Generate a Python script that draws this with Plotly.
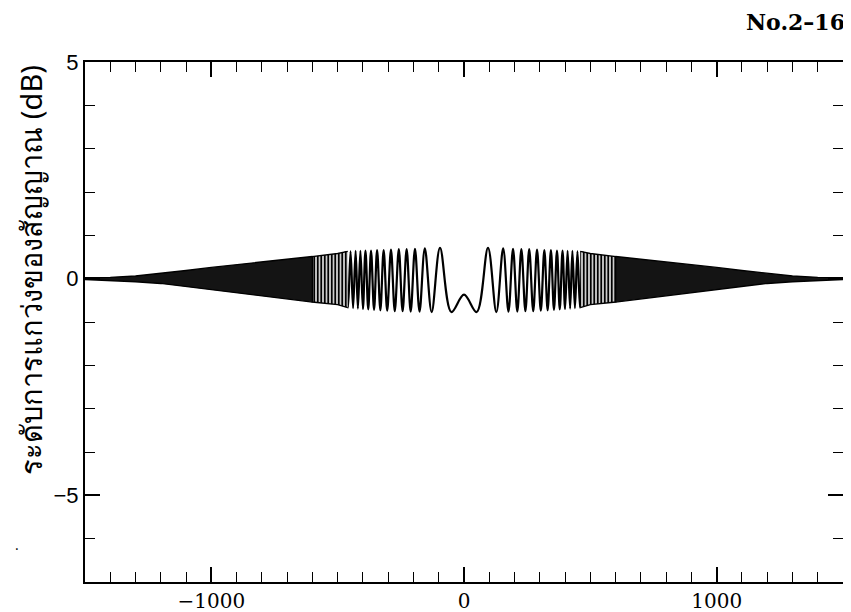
import plotly.graph_objects as go

# ---- data (positive side; the curve is mirror-symmetric) ----
# resolvable oscillation extrema near the centre
ext_x = [0, 50, 95, 128, 155, 176, 194, 211, 227, 243, 258, 274, 289, 304, 318,
         331, 344, 356, 368, 379, 390, 400, 410, 420, 429, 439, 449, 459, 469]
ext_y = [-0.37, -0.77, 0.71, -0.77, 0.70, -0.76, 0.69, -0.76, 0.68, -0.75, 0.68,
         -0.75, 0.67, -0.74, 0.66, -0.73, 0.66, -0.72, 0.65, -0.71, 0.65, -0.70,
         0.64, -0.69, 0.64, -0.68, 0.63, -0.67, 0.63]

# envelope of the dense (unresolvable) oscillation band
env_x = [460, 500, 600, 700, 800, 900, 1000, 1100, 1200, 1300, 1400, 1500]
env_up = [0.63, 0.58, 0.51, 0.45, 0.39, 0.33, 0.26, 0.19, 0.12, 0.06, 0.03, 0.02]
env_lo = [-0.67, -0.60, -0.54, -0.46, -0.39, -0.32, -0.25, -0.18, -0.11, -0.07, -0.04, -0.02]
split_x = 600  # striated part ends, solid dark part begins

x_ticks = [-1000, 0, 1000]
x_ticklabels = ["\u22121000", "0", "1000"]
y_ticks = [-5, 0, 5]
y_ticklabels = ["\u22125", "0", "5"]

title_text = "No.2\u201316"
y_title = "ระดับการแกว่งของสัญญาณ (dB)"

fig = go.Figure()

# centre oscillation
cx = [-v for v in ext_x[:0:-1]] + ext_x
cy = ext_y[:0:-1] + ext_y
fig.add_trace(go.Scatter(x=cx, y=cy, mode="lines",
                         line=dict(color="black", width=2.2, shape="spline", smoothing=1.0),
                         hoverinfo="skip", showlegend=False))

def band(sign, lo_lim, hi_lim, pattern):
    xs = [x for x in env_x if lo_lim <= x <= hi_lim]
    up = [u for x, u in zip(env_x, env_up) if lo_lim <= x <= hi_lim]
    lo = [l for x, l in zip(env_x, env_lo) if lo_lim <= x <= hi_lim]
    px = [sign * x for x in xs] + [sign * x for x in xs[::-1]]
    py = up + lo[::-1]
    kw = dict(x=px, y=py, mode="lines", fill="toself",
              line=dict(color="black", width=1.4),
              hoverinfo="skip", showlegend=False)
    if pattern:
        kw["fillpattern"] = dict(shape="|", size=3.5, solidity=0.6,
                                 fgcolor="black", bgcolor="white", fillmode="replace")
    else:
        kw["fillcolor"] = "rgba(0,0,0,0.92)"
    fig.add_trace(go.Scatter(**kw))

for s in (1, -1):
    band(s, 0, split_x, True)
    band(s, split_x, 1500, False)

axis_common = dict(showline=True, linecolor="black", linewidth=2, mirror="allticks",
                   ticks="inside", tickcolor="black", tickwidth=1.6,
                   showgrid=False, zeroline=False, automargin=False)

fig.update_xaxes(range=[-1500, 1500], tickmode="array", tickvals=x_ticks,
                 ticktext=x_ticklabels, ticklen=15,
                 tickfont=dict(family="DejaVu Serif", size=20, color="black"),
                 minor=dict(dtick=100, tick0=0, ticklen=10, ticks="inside",
                            tickcolor="black", tickwidth=1.4),
                 **axis_common)
fig.update_yaxes(range=[-7, 5], tickmode="array", tickvals=y_ticks,
                 ticktext=y_ticklabels, ticklen=15,
                 tickfont=dict(family="Liberation Sans", size=22, color="black"),
                 minor=dict(dtick=1, tick0=0, ticklen=10, ticks="inside",
                            tickcolor="black", tickwidth=1.4),
                 **axis_common)

# y-axis title (placed like in the reference, above the plot's vertical centre)
fig.add_annotation(text=y_title, xref="paper", yref="paper",
                   x=-0.073, y=0.6, textangle=-90, showarrow=False,
                   xanchor="center", yanchor="middle",
                   font=dict(family="Noto Sans, DejaVu Sans", size=29, color="black"))

fig.add_annotation(text=title_text, xref="paper", yref="paper", x=0.937, y=1.0,
                   xanchor="center", yanchor="middle", yshift=40, showarrow=False,
                   font=dict(family="DejaVu Serif", size=22, color="black", weight="bold"))
fig.add_annotation(text=".", xref="paper", yref="paper", x=-0.095, y=0.05,
                   showarrow=False, font=dict(size=14, color="black"))

# the page adds an 8 px body margin; the figure is offset by it inside the window
fig.update_layout(width=843, height=604, margin=dict(l=77, r=8, t=54, b=30),
                  paper_bgcolor="white", plot_bgcolor="white")

fig.write_html("out.html")
